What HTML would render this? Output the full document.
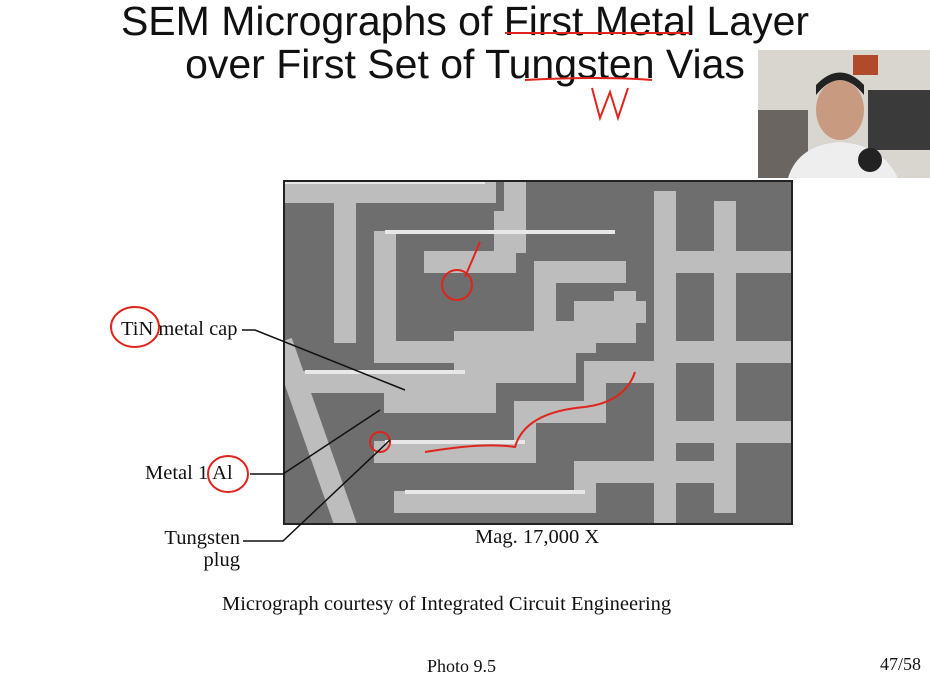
<!DOCTYPE html>
<html><head><meta charset="utf-8"><style>
html,body{margin:0;padding:0;background:#fff;}
body{width:930px;height:696px;position:relative;overflow:hidden;font-family:"Liberation Sans",sans-serif;}
.t{position:absolute;left:0;width:930px;text-align:center;font-size:41px;color:#111;line-height:1;}
.s{position:absolute;font-family:"Liberation Serif",serif;font-size:20.5px;color:#111;white-space:nowrap;}
</style></head><body>
<div class="t" style="top:1px;">SEM Micrographs of First Metal Layer</div>
<div class="t" style="top:44px;">over First Set of Tungsten Vias</div>

<div style="position:absolute;left:758px;top:50px;width:172px;height:128px;background:#cfcac2;">
<svg width="172" height="128">
<rect x="0" y="0" width="172" height="128" fill="#d9d6d0"/>
<rect x="0" y="60" width="50" height="68" fill="#6a6560"/>
<rect x="110" y="40" width="62" height="60" fill="#3a3a3a"/>
<rect x="95" y="5" width="25" height="20" fill="#b04a2a"/>
<ellipse cx="82" cy="60" rx="24" ry="30" fill="#c89a80"/>
<path d="M58 45 Q82 15 106 45 L106 35 Q82 10 58 35Z" fill="#222"/>
<path d="M30 128 Q40 95 82 92 Q124 95 140 128Z" fill="#eeeeee"/>
<circle cx="112" cy="110" r="12" fill="#222"/>
</svg></div>

<div style="position:absolute;left:283px;top:180px;width:510px;height:345px;border:2px solid #222;box-sizing:border-box;background:#777;">
<svg width="506" height="341">
<rect width="506" height="341" fill="#6e6e6e"/>
<g stroke="#bdbdbd" stroke-width="22" fill="none" stroke-linecap="square">
<path d="M0 10 H200"/><path d="M60 0 V150"/><path d="M100 60 V170 H260 V90 H330"/>
<path d="M150 80 H220 V40"/><path d="M20 200 H180 V160 H300 V130 H350"/>
<path d="M110 220 H200 V190 H280 V150 H340 V120"/>
<path d="M100 270 H240 V230 H310 V190 H360"/><path d="M120 320 H300 V290 H420"/>
<path d="M380 20 V330"/><path d="M440 30 V320"/><path d="M380 80 H506"/><path d="M380 170 H506"/><path d="M380 250 H506"/>
<path d="M0 170 L60 341"/><path d="M230 0 V60"/>
</g>
<g stroke="#e8e8e8" stroke-width="4" fill="none">
<path d="M0 0 H200"/><path d="M100 50 H330"/><path d="M20 190 H180"/><path d="M100 260 H240"/><path d="M120 310 H300"/>
</g>
<path d="M140 270 Q200 260 230 265 Q240 230 300 225 Q340 220 350 190" stroke="#e0241c" stroke-width="2" fill="none"/>
<circle cx="95" cy="260" r="10" stroke="#e0241c" stroke-width="2" fill="none"/>
<circle cx="172" cy="103" r="15" stroke="#e0241c" stroke-width="2" fill="none"/>
<path d="M195 60 L180 95" stroke="#e0241c" stroke-width="2"/>
</svg></div>

<svg width="930" height="696" style="position:absolute;left:0;top:0;pointer-events:none;">
<path d="M505 33 H690" stroke="#e0241c" stroke-width="2" fill="none"/>
<path d="M525 80 Q600 76 652 80" stroke="#e0241c" stroke-width="2" fill="none"/>
<path d="M592 88 L600 118 L610 92 L618 118 L628 88" stroke="#e0241c" stroke-width="2" fill="none"/>
<ellipse cx="135" cy="327" rx="24" ry="20" stroke="#e0241c" stroke-width="2" fill="none"/>
<ellipse cx="228" cy="474" rx="20" ry="18" stroke="#e0241c" stroke-width="2" fill="none"/>
<g stroke="#111" stroke-width="1.5" fill="none">
<path d="M242 330 H255 L405 390"/><path d="M250 474 H283 L380 410"/><path d="M243 541 H283 L390 440"/>
</g>
</svg>

<div class="s" style="left:121px;top:318px;">TiN metal cap</div>
<div class="s" style="left:145px;top:462px;">Metal 1 Al</div>
<div class="s" style="left:140px;width:100px;top:527px;text-align:right;line-height:22px;">Tungsten<br>plug</div>
<div class="s" style="left:475px;top:526px;">Mag. 17,000 X</div>
<div class="s" style="left:222px;top:593px;">Micrograph courtesy of Integrated Circuit Engineering</div>
<div class="s" style="left:427px;top:656px;font-size:18px;">Photo 9.5</div>
<div class="s" style="left:880px;top:654px;font-size:18px;">47/58</div>
</body></html>
